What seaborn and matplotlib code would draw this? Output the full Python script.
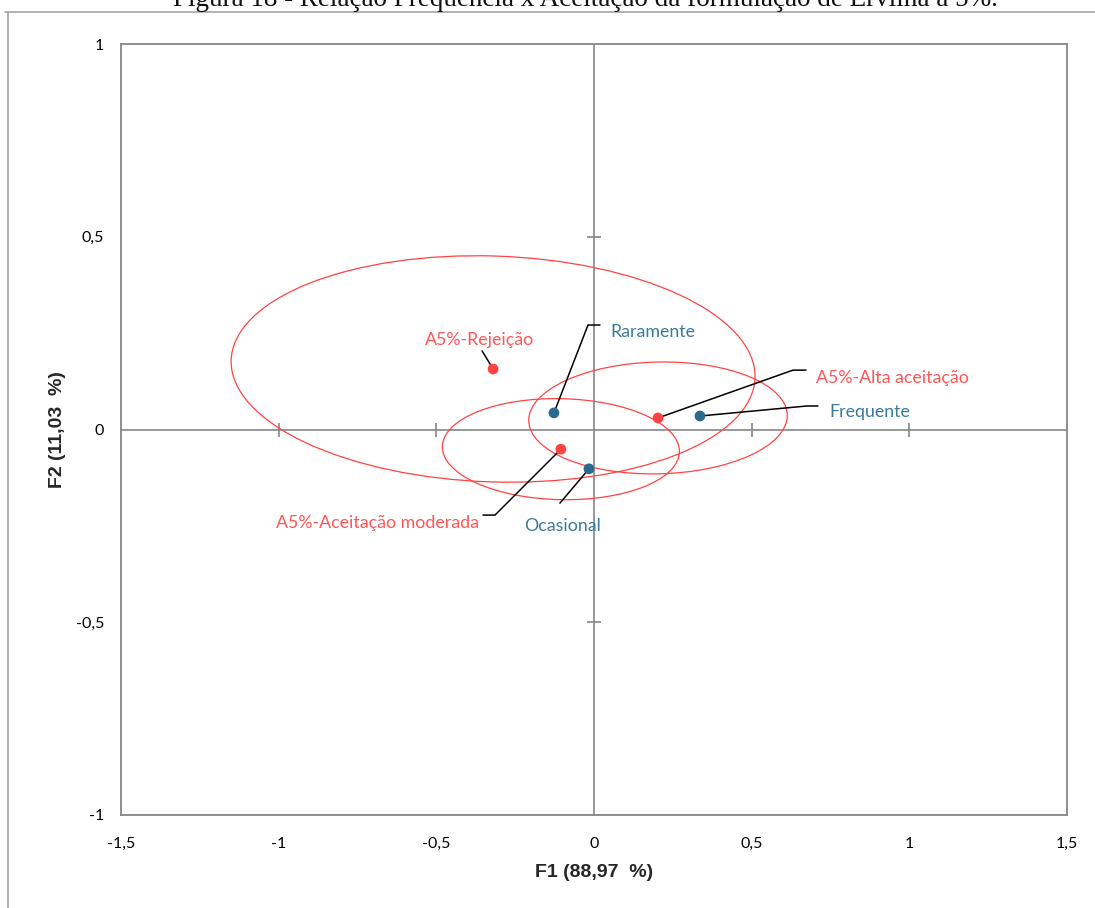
import numpy as np
import pandas as pd
import matplotlib
matplotlib.use("Agg")
import matplotlib.pyplot as plt
from matplotlib.patches import Ellipse
from matplotlib.lines import Line2D
import seaborn as sns

# Correspondence analysis coordinates (F1, F2)
labels = ["A5%-Rejeição", "A5%-Alta aceitação", "A5%-Aceitação moderada",
          "Raramente", "Frequente", "Ocasional"]
groups = ["Aceitação", "Aceitação", "Aceitação",
          "Frequência", "Frequência", "Frequência"]
f1 = [-0.320, 0.203, -0.105, -0.127, 0.336, -0.016]
f2 = [0.157, 0.030, -0.051, 0.043, 0.035, -0.102]

# Confidence ellipses around the acceptance categories (semi-axes, tilt in degrees)
ellipse_labels = ["A5%-Rejeição", "A5%-Alta aceitação", "A5%-Aceitação moderada"]
ellipse_semi_f1 = [0.831, 0.410, 0.376]
ellipse_semi_f2 = [0.293, 0.145, 0.131]
ellipse_tilt = [-1.5, 1.0, -1.0]

x_ticks = [-1.5, -1, -0.5, 0, 0.5, 1, 1.5]
y_ticks = [-1, -0.5, 0, 0.5, 1]
x_title = "F1 (88,97  %)"
y_title = "F2 (11,03  %)"
fig_title = "Figura 18 - Relação Frequência x Aceitação da formulação de Ervilha a 5%."

df = pd.DataFrame({"label": labels, "grupo": groups, "F1": f1, "F2": f2})

RED = "#FF4343"
RED_TXT = "#FF5555"
BLUE = "#2B6A8C"
BLUE_TXT = "#3A7A9C"
GRAY = "#868686"

sns.set_theme(style="white")
plt.rcParams["font.family"] = ["Lato", "DejaVu Sans"]

fig = plt.figure(figsize=(10.95, 9.08), dpi=100)
ax = fig.add_axes([121 / 1095, 93 / 908, 946 / 1095, 771 / 908])

# outer page frame
fig.add_artist(Line2D([8 / 1095, 8 / 1095], [0, 1 - 12 / 908],
                      transform=fig.transFigure, color="#A6A6A6", lw=1.2))
fig.add_artist(Line2D([5 / 1095, 1], [1 - 12 / 908, 1 - 12 / 908],
                      transform=fig.transFigure, color="#A6A6A6", lw=1.2))
fig.text(585 / 1095, 1 - 6 / 908, fig_title, ha="center", va="baseline",
         fontsize=19.5, family=["Liberation Serif", "DejaVu Serif"], color="#111111")

ax.set_xlim(x_ticks[0], x_ticks[-1])
ax.set_ylim(y_ticks[0], y_ticks[-1])

# zero axes with cross ticks
ax.axhline(0, color=GRAY, lw=1.2, zorder=1)
ax.axvline(0, color=GRAY, lw=1.2, zorder=1)
xx = [t for t in x_ticks[1:-1] if t != 0]
yy = [t for t in y_ticks[1:-1] if t != 0]
ax.plot(xx, [0] * len(xx), ls="none", marker="|", markersize=10, mew=1.2, color=GRAY, zorder=1)
ax.plot([0] * len(yy), yy, ls="none", marker="_", markersize=10, mew=1.2, color=GRAY, zorder=1)

# ellipses
pos = df.set_index("label")
for name, a, b, t in zip(ellipse_labels, ellipse_semi_f1, ellipse_semi_f2, ellipse_tilt):
    cx, cy = pos.loc[name, "F1"], pos.loc[name, "F2"]
    ax.add_patch(Ellipse((cx, cy), 2 * a, 2 * b, angle=t, fill=False,
                         ec=RED, lw=0.9, zorder=2))

# label placement: text anchor, leader path
layout = {
    "A5%-Rejeição": dict(text=(-0.362, 0.232), ha="center", path=[(-0.355, 0.204)]),
    "Raramente": dict(text=(0.051, 0.253), ha="left",
                      path=[(0.019, 0.271), (-0.019, 0.271)]),
    "A5%-Alta aceitação": dict(text=(0.704, 0.134), ha="left",
                               path=[(0.672, 0.154), (0.631, 0.154)]),
    "Frequente": dict(text=(0.748, 0.045), ha="left",
                      path=[(0.710, 0.061), (0.675, 0.061)]),
    "A5%-Aceitação moderada": dict(text=(-0.365, -0.243), ha="right",
                                   path=[(-0.352, -0.222), (-0.314, -0.222)]),
    "Ocasional": dict(text=(-0.101, -0.250), ha="center", path=[(-0.108, -0.191)]),
}
for _, r in df.iterrows():
    lay = layout[r["label"]]
    pts = lay["path"] + [(r["F1"], r["F2"])]
    ax.plot([p[0] for p in pts], [p[1] for p in pts], color="black", lw=1.1, zorder=3)
    col = RED_TXT if r["grupo"] == "Aceitação" else BLUE_TXT
    ax.text(lay["text"][0], lay["text"][1], r["label"], ha=lay["ha"], va="center",
            fontsize=12.8, color=col, zorder=5)

sns.scatterplot(data=df, x="F1", y="F2", hue="grupo",
                palette={"Aceitação": RED, "Frequência": BLUE},
                s=60, edgecolor="none", legend=False, ax=ax, zorder=4)

ax.set_xticks(x_ticks)
ax.set_yticks(y_ticks)
ax.set_xticklabels([f"{t:g}".replace(".", ",") for t in x_ticks])
ax.set_yticklabels([f"{t:g}".replace(".", ",") for t in y_ticks])
ax.tick_params(axis="both", length=0, labelsize=11.5, colors="black")
ax.tick_params(axis="x", pad=16)
ax.tick_params(axis="y", pad=12)
for sp in ax.spines.values():
    sp.set_color(GRAY)
    sp.set_linewidth(1.3)
    sp.set_visible(True)

ax.set_xlabel(x_title, fontsize=14, fontweight="bold",
              family=["Liberation Sans", "DejaVu Sans"], labelpad=9)
ax.set_ylabel(y_title, fontsize=14, fontweight="bold",
              family=["Liberation Sans", "DejaVu Sans"], labelpad=7)

fig.savefig("out.png", dpi=100)
